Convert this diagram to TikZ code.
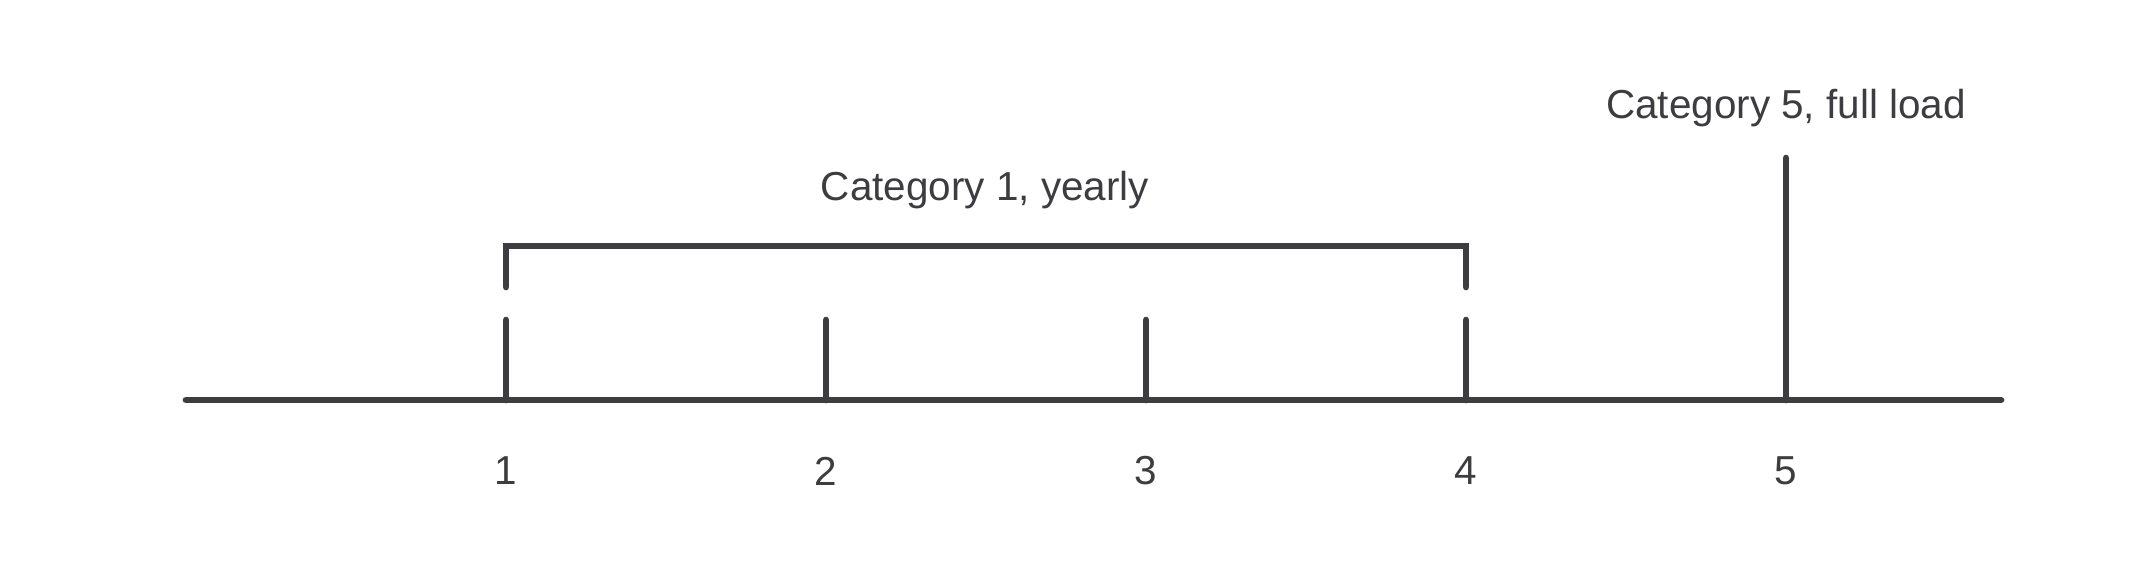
\documentclass[tikz,border=0pt]{standalone}
\usepackage{fontspec}
\setmainfont{Liberation Sans}
\usetikzlibrary{positioning}

\definecolor{inkgray}{RGB}{60,60,65}

\begin{document}
\begin{tikzpicture}[%
	x=0.01cm,
	y=-0.01cm,
	axis line/.style={
		draw=inkgray,
		line width=1.9pt,
		line cap=round,
		line join=miter
	},
	tick label/.style={
		text=inkgray,
		inner sep=0pt,
		font=\fontsize{11.5pt}{13pt}\selectfont,
		anchor=center
	},
	cat label/.style={
		text=inkgray,
		inner sep=0pt,
		font=\fontsize{11.5pt}{13pt}\selectfont,
		align=center
	},
]
	\useasboundingbox (0,0) rectangle (2133,560);
	% axis
	\coordinate (a) at (186,400);
	\coordinate (b) at (2001,400);
	\draw[axis line] (a) -- (b);
	% ticks and their labels
	\foreach \n/\x in {1/506,2/826,3/1146,4/1466}{
		\coordinate (t\n) at (\x,400);
		\coordinate (h\n) at (\x,320);
		\draw[axis line] (t\n) -- (h\n);
		\node[tick label] (l\n) at (\x,471) {\n};
	}
	\coordinate (t5) at (1786,400);
	\coordinate (h5) at (1786,158);
	\draw[axis line] (t5) -- (h5);
	\node[tick label] (l5) at (1786,471) {5};
	% bracket over 1..4
	\coordinate (b1) at (506,287);
	\coordinate (c1) at (506,246);
	\coordinate (c4) at (1466,246);
	\coordinate (b4) at (1466,287);
	\draw[axis line] (b1) -- (c1) -- (c4) -- (b4);
	\node[cat label] (cat1) at (985,190) {Category 1, yearly};
	\node[cat label] (cat5) at (1786,108) {Category 5, full load};
\end{tikzpicture}
\end{document}
